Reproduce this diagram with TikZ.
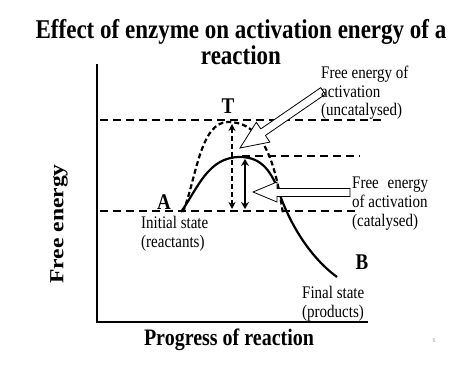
\documentclass[tikz,border=0pt]{standalone}
\usepackage{fontspec}
\setmainfont{Liberation Serif}
\usetikzlibrary{arrows.meta}
\begin{document}
\begin{tikzpicture}[x=1pt,y=-1pt,
  lbl/.style={inner sep=0pt, yscale=1.18, font=\fontsize{15}{15.8}\selectfont, align=left},
  bigbold/.style={inner sep=0pt, yscale=1.18, font=\fontsize{20}{23}\selectfont\bfseries},
  letter/.style={inner sep=0pt, yscale=1.18, font=\fontsize{19}{20}\selectfont\bfseries},
  axis/.style={line width=2pt},
  level/.style={line width=1.5pt, dash pattern=on 8pt off 5pt},
  hollow/.style={draw=black, line width=0.8pt, fill=white, line join=miter}]
\useasboundingbox[fill=white] (0,0) rectangle (474,366);

% title
\node[inner sep=0pt, yscale=1.18, align=center, font=\fontsize{23}{22.5}\selectfont\bfseries] (title) at (241,42)
  {Effect of enzyme on activation energy of a\\reaction};

% axes
\coordinate (O) at (97,322);
\coordinate (Ytop) at (97,64);
\coordinate (Xend) at (368,322);
\draw[axis] (Ytop) -- (O) -- (Xend);
\node[bigbold, rotate=90] (ylab) at (59,224) {Free energy};
\node[bigbold] (xlab) at (229,340) {Progress of reaction};

% energy levels
\coordinate (L1a) at (100,120); \coordinate (L1b) at (384,120);
\coordinate (L2a) at (242,156); \coordinate (L2b) at (360,156);
\coordinate (L3a) at (100,211); \coordinate (L3b) at (356,211);
\draw[level] (L1a) -- (L1b);
\draw[level] (L2a) -- (L2b);
\draw[level] (L3a) -- (L3b);

% uncatalysed (dashed) curve
\draw[line width=2.2pt, dash pattern=on 5pt off 3pt]
  (183,212) .. controls (196,180) and (200,122) .. (228,122)
            .. controls (258,122) and (274,150) .. (283,214);

% catalysed (solid) curve
\draw[line width=2.2pt]
  (181,212) .. controls (198,188) and (208,157) .. (240,157)
            .. controls (262,157) and (272,172) .. (280,195)
            .. controls (291,226) and (311,258) .. (337,277);

% activation arrows
\coordinate (U1) at (232,209); \coordinate (U2) at (232,124);
\coordinate (C1) at (245,209); \coordinate (C2) at (245,159);
\draw[line width=2.2pt, dash pattern=on 5pt off 3pt, {Stealth[length=7pt,width=7pt]}-{Stealth[length=7pt,width=7pt]}] (U1) -- (U2);
\draw[line width=2pt, {Stealth[length=7pt,width=8pt]}-{Stealth[length=7pt,width=8pt]}] (C1) -- (C2);

% hollow pointer arrows
\draw[hollow] (240,148) -- (256.3,122.3) -- (260.8,128.9) -- (320.7,87.7)
  -- (325.3,94.3) -- (265.4,135.5) -- (269.9,142.1) -- cycle;
\draw[hollow] (253,192) -- (277,182) -- (277,188.5) -- (350,188.5)
  -- (350,196.5) -- (277,196.5) -- (277,202) -- cycle;

% letters
\node[letter] (A) at (164,202) {A};
\node[letter] (T) at (228,106) {T};
\node[letter] (B) at (362,262) {B};

% labels
\node[lbl, anchor=north west] (unc) at (321,66) {Free energy of\\activation\\(uncatalysed)};
\node[lbl, anchor=north west] (cat) at (352,177) {\makebox[76pt][s]{Free energy}\\of activation\\(catalysed)};
\node[lbl, anchor=north west] (init) at (141,216) {Initial state\\(reactants)};
\node[lbl, anchor=north west] (fin) at (302,286) {Final state\\(products)};

\node[inner sep=0pt, text=black!40, font=\fontsize{6}{6}\selectfont] (pg) at (434,341) {6};
\end{tikzpicture}
\end{document}
